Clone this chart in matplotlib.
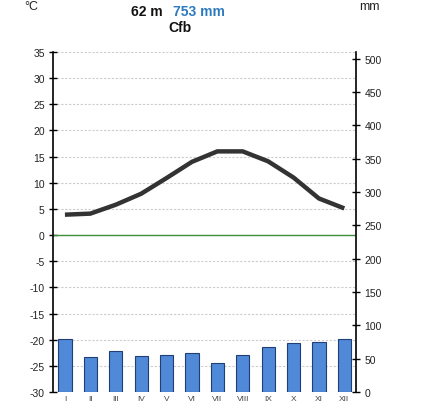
import matplotlib
matplotlib.use("Agg")
import matplotlib.pyplot as plt
import numpy as np

plt.rcParams['font.family'] = ['Liberation Sans', 'DejaVu Sans']

months = ["I", "II", "III", "IV", "V", "VI", "VII", "VIII", "IX", "X", "XI", "XII"]
temperature = [3.9, 4.1, 5.8, 7.9, 10.9, 14.0, 16.0, 16.0, 14.1, 11.0, 7.0, 5.1]
precipitation = [79, 52, 61, 54, 55, 58, 44, 55, 67, 73, 75, 80]
temp_ticks = list(range(-30, 36, 5))
precip_ticks = list(range(0, 501, 50))
elevation_text = "62 m"
total_precip_text = "753 mm"
climate_text = "Cfb"

fig = plt.figure(figsize=(4.22, 4.10), dpi=100)
ax = fig.add_axes([53/422, 17/410, (356-53)/422, (393-53)/410])
ax2 = ax.twinx()

x = np.arange(len(months))

# temperature axis
ax.set_ylim(-30, 35)
ax.set_xlim(-0.47, 11.46)
ax.set_yticks(temp_ticks)
ax.set_yticklabels([str(t) for t in temp_ticks], fontsize=7.5, color='#222222')
ax.grid(axis='y', color='#cccccc', linestyle=(0, (2, 1.5)), linewidth=0.8)
ax.set_axisbelow(True)
ax.axhline(0, color='#3f8f3f', linewidth=1.0, zorder=2)
ax.plot(x, temperature, color='#333333', linewidth=3.2, solid_capstyle='butt',
        solid_joinstyle='round', zorder=5)
ax.set_xticks(x)
ax.set_xticklabels(months, fontsize=6, color='#444444')
ax.tick_params(axis='x', length=0, pad=2)
ax.tick_params(axis='y', direction='inout', length=6, width=1, pad=3)
for s in ['top', 'bottom', 'right']:
    ax.spines[s].set_visible(False)
ax.spines['left'].set_linewidth(1.2)

# precipitation axis
ax2.set_ylim(0, 510)
ax2.bar(x, precipitation, width=0.52, color='#5089d8', edgecolor='#1f3f75', linewidth=0.8, zorder=3)
ax2.set_yticks(precip_ticks)
ax2.set_yticklabels([str(p) for p in precip_ticks], fontsize=7.5, color='#222222')
ax2.tick_params(axis='y', direction='inout', length=6, width=1, pad=3)
for s in ['top', 'bottom', 'left']:
    ax2.spines[s].set_visible(False)
ax2.spines['right'].set_linewidth(1.2)
ax2.set_xlim(-0.47, 11.46)

# header texts
fig.text(31/422, 1 - 7/410, "°C", fontsize=9, ha='center', va='center', color='#222222')
fig.text(369/422, 1 - 7/410, "mm", fontsize=9, ha='center', va='center', color='#222222')
fig.text(163/422, 1 - 12/410, elevation_text, fontsize=10, fontweight='bold',
         ha='right', va='center', color='#111111')
fig.text(173/422, 1 - 12/410, total_precip_text, fontsize=10, fontweight='bold',
         ha='left', va='center', color='#2e7ac0')
fig.text(180/422, 1 - 27.5/410, climate_text, fontsize=10, fontweight='bold',
         ha='center', va='center', color='#111111')

fig.savefig("out.png", dpi=100)
